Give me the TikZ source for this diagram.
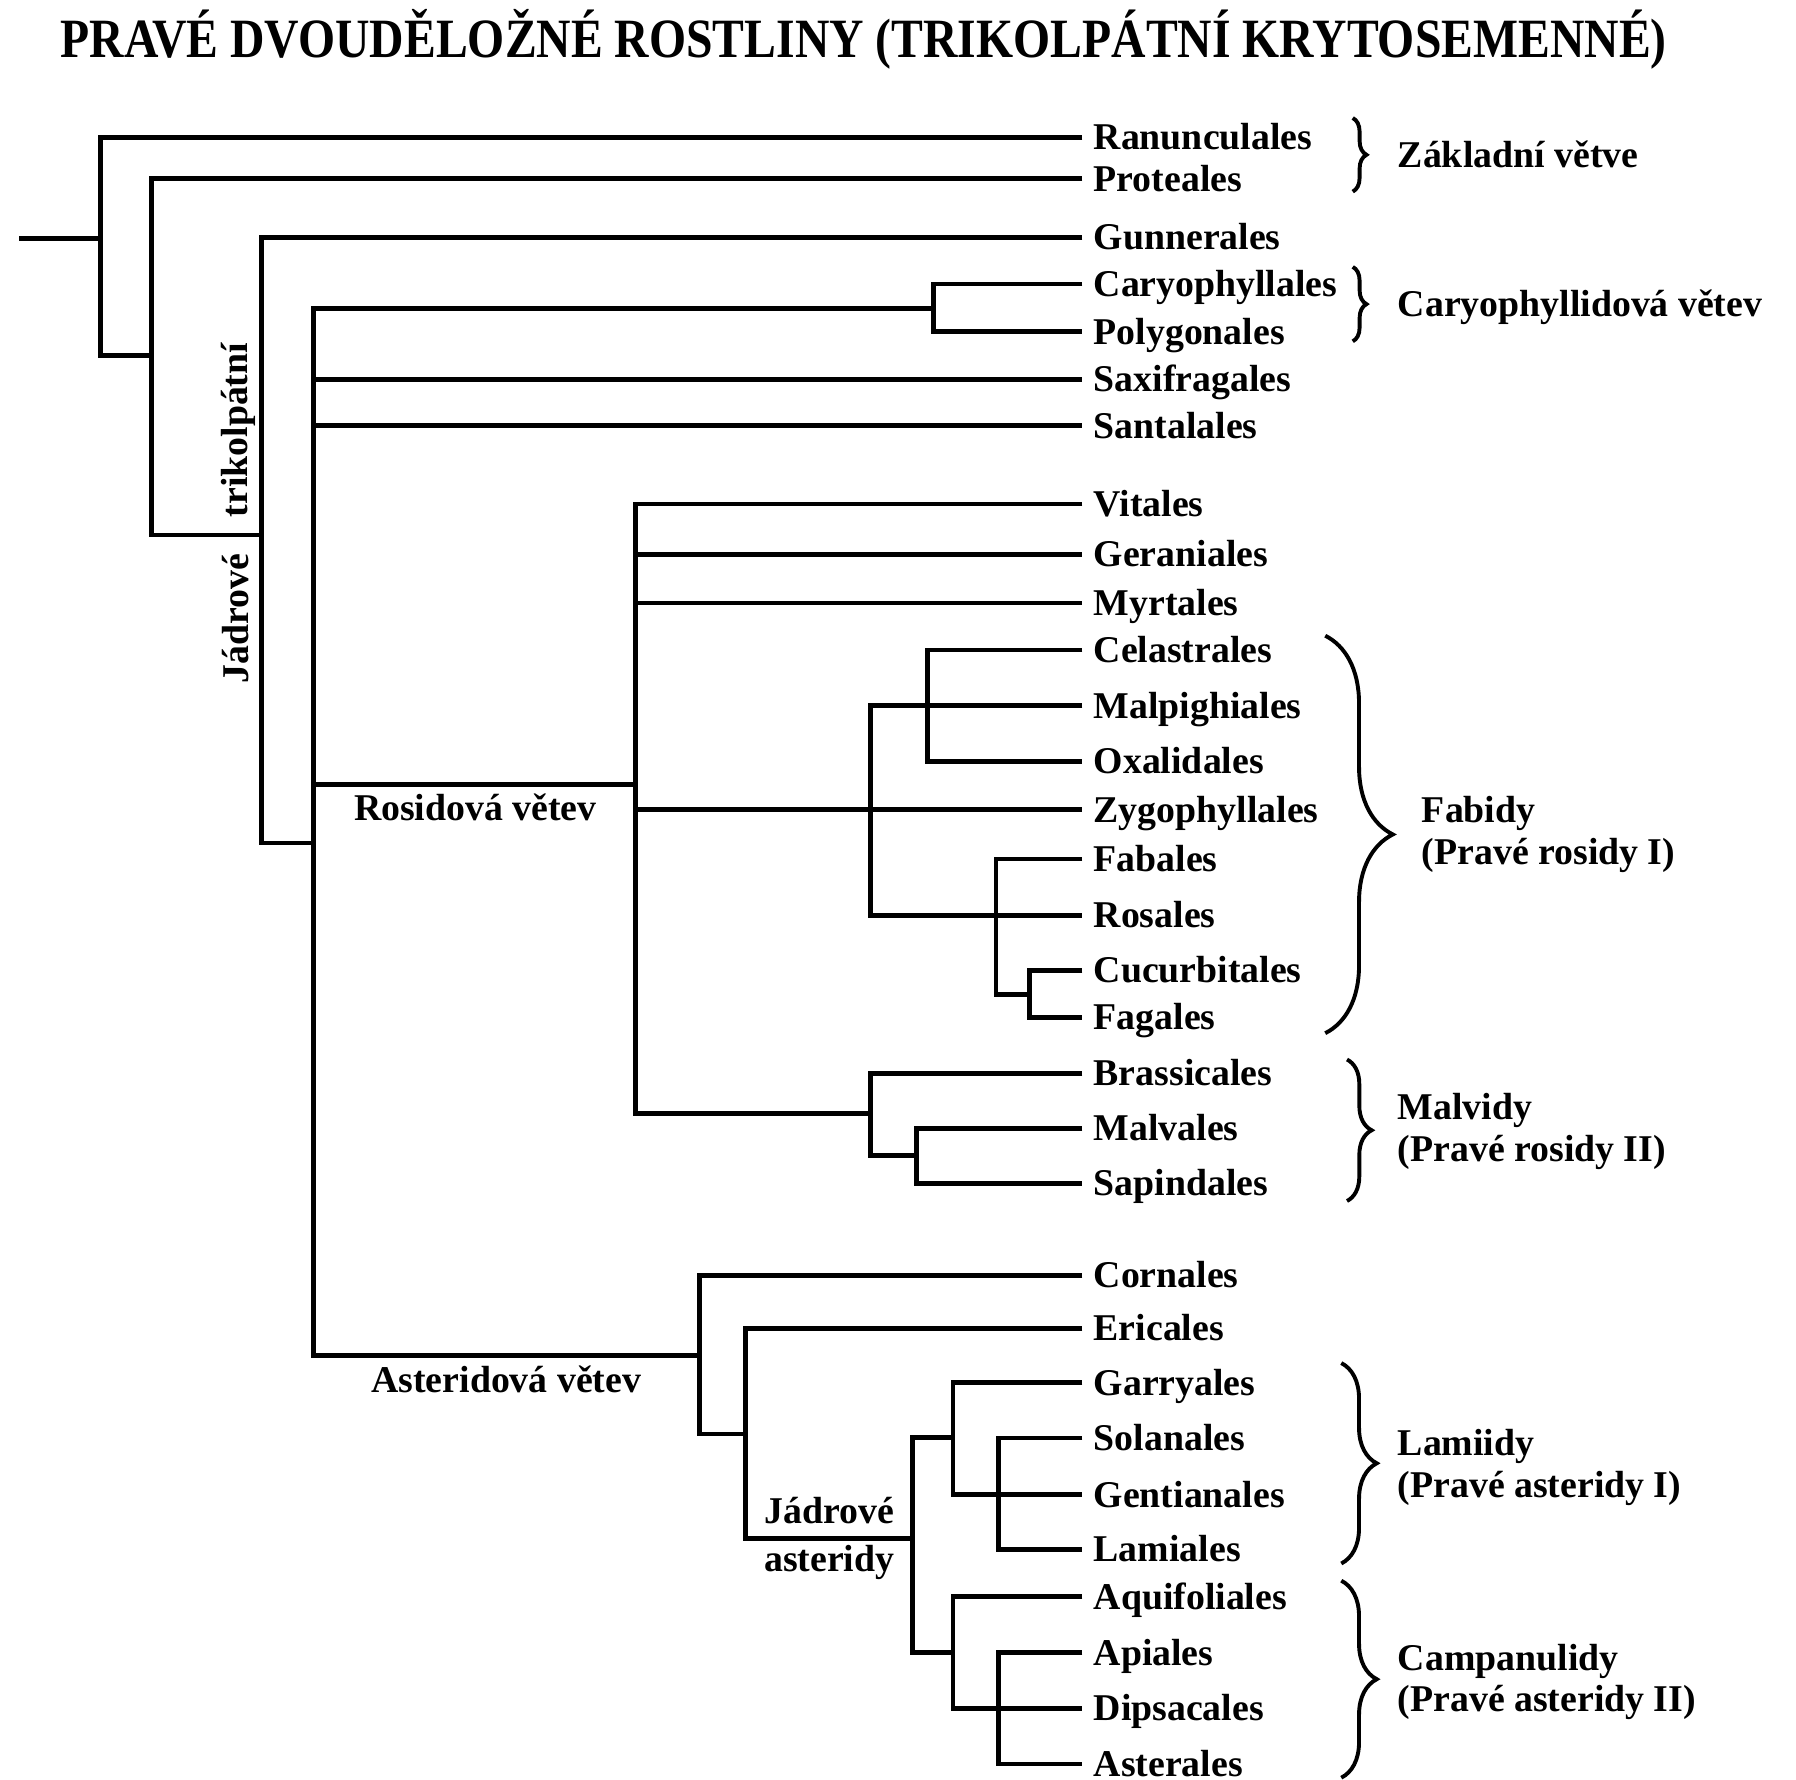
\documentclass[tikz,border=0pt]{standalone}
\usepackage{fontspec}
\setmainfont{Liberation Serif}
\usetikzlibrary{decorations.pathreplacing}

\tikzset{
    branch/.style = {line width=2.1pt},
    leaf/.style = {anchor=west, inner xsep=4.75pt, inner ysep=0pt,
        text height=10.9pt, text depth=0pt,
        font=\bfseries\fontsize{16.5pt}{18.25pt}\selectfont},
    clade/.style = {inner sep=0pt, text height=10.9pt, text depth=0pt,
        font=\bfseries\fontsize{16.5pt}{18.25pt}\selectfont},
    group/.style = {anchor=base west, inner sep=0pt,
        font=\bfseries\fontsize{16.5pt}{18.25pt}\selectfont},
    bracket/.style = {line width=1.7pt, decorate, decoration={brace, amplitude=#1}},
}

\begin{document}
\begin{tikzpicture}[x=0.5pt, y=-0.5pt]
            \useasboundingbox (0,0) rectangle (1568,1554);

            \node[inner sep=0pt, text height=16pt, text depth=0pt,
                font=\bfseries\fontsize{24.2pt}{28pt}\selectfont] (title) at (754,34)
                {\scalebox{0.86}[1]{PRAVÉ DVOUDĚLOŽNÉ ROSTLINY (TRIKOLPÁTNÍ KRYTOSEMENNÉ)}};

            % leaves
            \node[leaf] (ranun) at (945,120) {Ranunculales};
            \node[leaf] (prot) at (945,156) {Proteales};
            \node[leaf] (gunn) at (945,207) {Gunnerales};
            \node[leaf] (caryo) at (945,248) {Caryophyllales};
            \node[leaf] (polyg) at (945,289.5) {Polygonales};
            \node[leaf] (saxi) at (945,331) {Saxifragales};
            \node[leaf] (santa) at (945,371.5) {Santalales};
            \node[leaf] (vita) at (945,440) {Vitales};
            \node[leaf] (gera) at (945,484) {Geraniales};
            \node[leaf] (myrt) at (945,526.5) {Myrtales};
            \node[leaf] (celas) at (945,567.5) {Celastrales};
            \node[leaf] (malpi) at (945,616) {Malpighiales};
            \node[leaf] (oxal) at (945,664.5) {Oxalidales};
            \node[leaf] (zygo) at (945,707) {Zygophyllales};
            \node[leaf] (faba) at (945,750) {Fabales};
            \node[leaf] (rosa) at (945,799) {Rosales};
            \node[leaf] (cucu) at (945,847) {Cucurbitales};
            \node[leaf] (faga) at (945,888) {Fagales};
            \node[leaf] (brass) at (945,937) {Brassicales};
            \node[leaf] (malva) at (945,985) {Malvales};
            \node[leaf] (sapi) at (945,1033) {Sapindales};
            \node[leaf] (corn) at (945,1113.5) {Cornales};
            \node[leaf] (eric) at (945,1159.5) {Ericales};
            \node[leaf] (garr) at (945,1207) {Garryales};
            \node[leaf] (sola) at (945,1255.5) {Solanales};
            \node[leaf] (gent) at (945,1305) {Gentianales};
            \node[leaf] (lami) at (945,1352.5) {Lamiales};
            \node[leaf] (aqui) at (945,1394) {Aquifoliales};
            \node[leaf] (apia) at (945,1443) {Apiales};
            \node[leaf] (dips) at (945,1491.5) {Dipsacales};
            \node[leaf] (aste) at (945,1540) {Asterales};

            % junctions
            \coordinate (root) at (17,208);
            \coordinate (c1) at (88,208);
            \coordinate (c2) at (132,310.5);
            \coordinate (c3) at (228,467);
            \coordinate (c4) at (273.5,736);
            \coordinate (c5) at (815,269.5);
            \coordinate (c6) at (554.5,685);
            \coordinate (c7) at (760,707);
            \coordinate (c8) at (810,616);
            \coordinate (c9) at (869.5,799);
            \coordinate (c10) at (899,868);
            \coordinate (c11) at (760,972);
            \coordinate (c12) at (800,1009);
            \coordinate (c13) at (610.5,1183.5);
            \coordinate (c14) at (651,1252);
            \coordinate (c15) at (797,1343);
            \coordinate (c16) at (832,1255);
            \coordinate (c17) at (872,1305);
            \coordinate (c18) at (832,1443);
            \coordinate (c19) at (872,1491.5);

            \draw[branch] (root) -- (c1);
            \draw[branch] (ranun.west) -| (c1) |- (c2);
            \draw[branch] (prot.west) -| (c2) |- (c3);
            \draw[branch] (gunn.west) -| (c3) |- (c4);
            \draw[branch] (c5) -| (c4) |- (c13);
            \draw[branch] (c4 |- saxi.west) -- (saxi.west);
            \draw[branch] (c4 |- santa.west) -- (santa.west);
            \draw[branch] (c4 |- c6) -- (c6);
            \draw[branch] (caryo.west) -| (c5) |- (polyg.west);

            \draw[branch] (vita.west) -| (c6) |- (c11);
            \draw[branch] (c6 |- gera.west) -- (gera.west);
            \draw[branch] (c6 |- myrt.west) -- (myrt.west);
            \draw[branch] (c6 |- zygo.west) -- (zygo.west);
            \draw[branch] (malpi.west) -| (c7) |- (rosa.west);
            \draw[branch] (celas.west) -| (c8) |- (oxal.west);
            \draw[branch] (faba.west) -| (c9) |- (c10);
            \draw[branch] (cucu.west) -| (c10) |- (faga.west);
            \draw[branch] (brass.west) -| (c11) |- (c12);
            \draw[branch] (malva.west) -| (c12) |- (sapi.west);

            \draw[branch] (corn.west) -| (c13) |- (c14);
            \draw[branch] (eric.west) -| (c14) |- (c15);
            \draw[branch] (c16) -| (c15) |- (c18);
            \draw[branch] (garr.west) -| (c16) |- (gent.west);
            \draw[branch] (sola.west) -| (c17) |- (lami.west);
            \draw[branch] (aqui.west) -| (c18) |- (dips.west);
            \draw[branch] (apia.west) -| (c19) |- (aste.west);

            % clade names on the tree
            \node[rotate=90, anchor=base, inner sep=0pt,
                font=\bfseries\fontsize{16.5pt}{18.25pt}\selectfont] (trik) at (215.8,375.5) {trikolpátní};
            \node[rotate=90, anchor=base, inner sep=0pt,
                font=\bfseries\fontsize{16.5pt}{18.25pt}\selectfont] (jadro) at (216.8,540) {Jádrové};
            \node[clade] (rosid) at (415,705) {Rosidová větev};
            \node[clade] (asterid) at (442,1205) {Asteridová větev};
            \node[clade] (jadA) at (724,1319) {Jádrové};
            \node[clade] (jadB) at (724,1361) {asteridy};

            % braces
            \draw[bracket=6pt] (1181,103) -- (1181,167.3);
            \draw[bracket=6pt] (1181,233) -- (1181,298);
            \draw[bracket=29.5pt] (1157,555) -- (1157,902);
            \draw[bracket=10.75pt] (1176,925) -- (1176,1048.5);
            \draw[bracket=15.5pt] (1171,1190) -- (1171,1365);
            \draw[bracket=15.5pt] (1171,1380) -- (1171,1552);

            \node[group] (zakl) at (1220,146) {Základní větve};
            \node[group] (cary) at (1220,276) {Caryophyllidová větev};
            \node[group] (fabA) at (1241,718.5) {Fabidy};
            \node[group] (fabB) at (1241,755) {(Pravé rosidy I)};
            \node[group] (malA) at (1220,977.5) {Malvidy};
            \node[group] (malB) at (1220,1014) {(Pravé rosidy II)};
            \node[group] (lamA) at (1220,1270.5) {Lamiidy};
            \node[group] (lamB) at (1220,1307) {(Pravé asteridy I)};
            \node[group] (camA) at (1220,1458) {Campanulidy};
            \node[group] (camB) at (1220,1494.5) {(Pravé asteridy II)};
        \end{tikzpicture}
\end{document}
